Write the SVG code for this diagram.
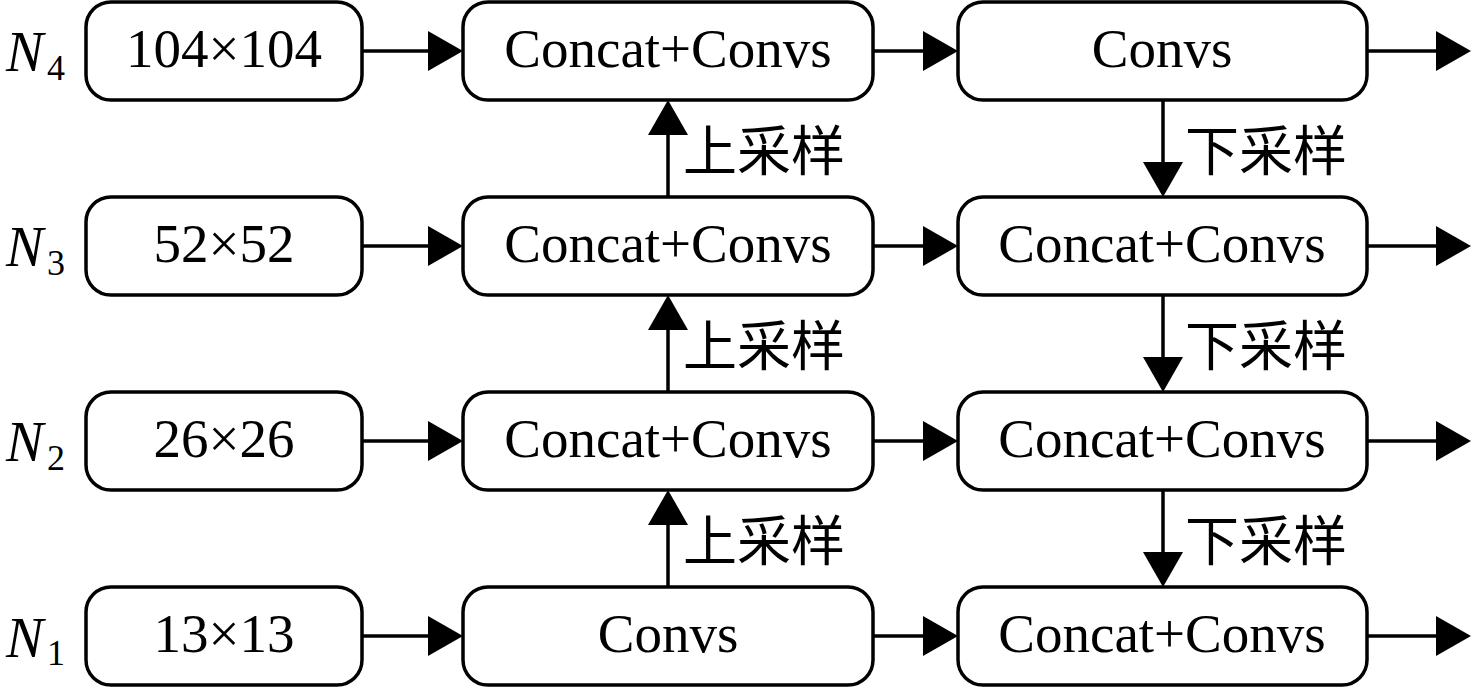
<svg xmlns="http://www.w3.org/2000/svg" width="1476" height="688" viewBox="0 0 1476 688">
<style>
.box{fill:#fff;stroke:#000;stroke-width:3.5}
.t{font-family:"Liberation Serif","Times New Roman",serif;font-size:55px;fill:#000;text-anchor:middle}
.n{font-family:"Liberation Serif","Times New Roman",serif;font-size:56px;font-style:italic;fill:#000}
.s{font-family:"Liberation Serif","Times New Roman",serif;font-size:36px;fill:#000}
.cn{font-family:"Noto Sans CJK SC","Noto Sans CJK JP",sans-serif;font-size:54px;fill:#000}
.ln{stroke:#000;stroke-width:3.5;fill:none}
</style>
<defs>
<marker id="ah" markerUnits="userSpaceOnUse" viewBox="0 0 35 40" refX="0" refY="20" markerWidth="35" markerHeight="40" orient="auto">
<path d="M0,0 L35,20 L0,40 z" fill="#000"/>
</marker>
</defs>
<g id="labels">
<text class="n" x="6" y="71">N</text><text class="s" x="47" y="80">4</text>
<text class="n" x="6" y="266">N</text><text class="s" x="47" y="275">3</text>
<text class="n" x="6" y="461">N</text><text class="s" x="47" y="470">2</text>
<text class="n" x="6" y="657">N</text><text class="s" x="47" y="665">1</text>
</g>
<g id="in4"><rect class="box" x="86" y="2" width="276" height="98" rx="25"/><text class="t" x="224" y="67">104×104</text></g>
<g id="in3"><rect class="box" x="86" y="197" width="276" height="98" rx="25"/><text class="t" x="224" y="262">52×52</text></g>
<g id="in2"><rect class="box" x="86" y="392" width="276" height="98" rx="25"/><text class="t" x="224" y="457">26×26</text></g>
<g id="in1"><rect class="box" x="86" y="587" width="276" height="98" rx="25"/><text class="t" x="224" y="652">13×13</text></g>
<g id="m4"><rect class="box" x="463" y="2" width="410" height="98" rx="25"/><text class="t" x="668" y="67">Concat+Convs</text></g>
<g id="m3"><rect class="box" x="463" y="197" width="410" height="98" rx="25"/><text class="t" x="668" y="262">Concat+Convs</text></g>
<g id="m2"><rect class="box" x="463" y="392" width="410" height="98" rx="25"/><text class="t" x="668" y="457">Concat+Convs</text></g>
<g id="m1"><rect class="box" x="463" y="587" width="410" height="98" rx="25"/><text class="t" x="668" y="652">Convs</text></g>
<g id="r4"><rect class="box" x="958" y="2" width="409" height="98" rx="25"/><text class="t" x="1162" y="67">Convs</text></g>
<g id="r3"><rect class="box" x="958" y="197" width="409" height="98" rx="25"/><text class="t" x="1162" y="262">Concat+Convs</text></g>
<g id="r2"><rect class="box" x="958" y="392" width="409" height="98" rx="25"/><text class="t" x="1162" y="457">Concat+Convs</text></g>
<g id="r1"><rect class="box" x="958" y="587" width="409" height="98" rx="25"/><text class="t" x="1162" y="652">Concat+Convs</text></g>
<g id="connectors">
<line class="ln" x1="362" y1="51" x2="428" y2="51" marker-end="url(#ah)"/>
<line class="ln" x1="362" y1="246" x2="428" y2="246" marker-end="url(#ah)"/>
<line class="ln" x1="362" y1="441" x2="428" y2="441" marker-end="url(#ah)"/>
<line class="ln" x1="362" y1="636" x2="428" y2="636" marker-end="url(#ah)"/>
<line class="ln" x1="873" y1="51" x2="923" y2="51" marker-end="url(#ah)"/>
<line class="ln" x1="873" y1="246" x2="923" y2="246" marker-end="url(#ah)"/>
<line class="ln" x1="873" y1="441" x2="923" y2="441" marker-end="url(#ah)"/>
<line class="ln" x1="873" y1="636" x2="923" y2="636" marker-end="url(#ah)"/>
<line class="ln" x1="1367" y1="51" x2="1436" y2="51" marker-end="url(#ah)"/>
<line class="ln" x1="1367" y1="246" x2="1436" y2="246" marker-end="url(#ah)"/>
<line class="ln" x1="1367" y1="441" x2="1436" y2="441" marker-end="url(#ah)"/>
<line class="ln" x1="1367" y1="636" x2="1436" y2="636" marker-end="url(#ah)"/>
<line class="ln" x1="668" y1="197" x2="668" y2="135" marker-end="url(#ah)"/>
<line class="ln" x1="668" y1="392" x2="668" y2="330" marker-end="url(#ah)"/>
<line class="ln" x1="668" y1="587" x2="668" y2="525" marker-end="url(#ah)"/>
<line class="ln" x1="1163" y1="100" x2="1163" y2="162" marker-end="url(#ah)"/>
<line class="ln" x1="1163" y1="295" x2="1163" y2="357" marker-end="url(#ah)"/>
<line class="ln" x1="1163" y1="490" x2="1163" y2="552" marker-end="url(#ah)"/>
<text class="cn" x="683" y="171">上采样</text>
<text class="cn" x="683" y="366">上采样</text>
<text class="cn" x="683" y="561">上采样</text>
<text class="cn" x="1185" y="171">下采样</text>
<text class="cn" x="1185" y="366">下采样</text>
<text class="cn" x="1185" y="561">下采样</text>
</g>
</svg>
